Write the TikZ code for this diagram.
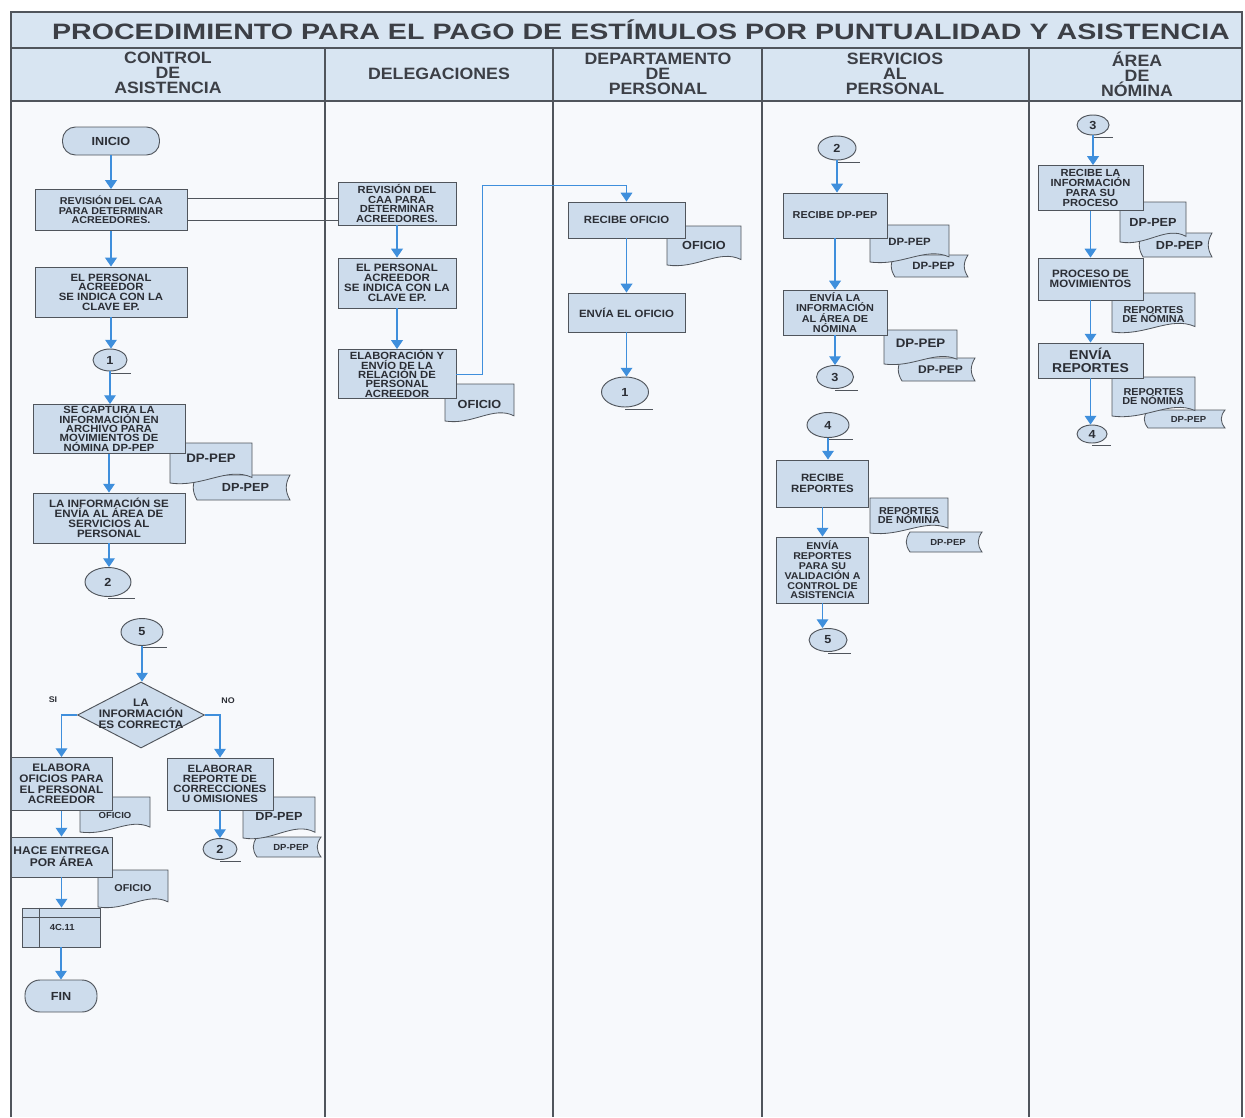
\documentclass[tikz,border=0pt]{standalone}
\usepackage{fontspec}
\setmainfont[FakeStretch=1.08]{Liberation Sans}
\usetikzlibrary{arrows.meta,shapes.geometric,calc}
\definecolor{boxfill}{HTML}{CDDCEC}
\definecolor{hdrfill}{HTML}{D8E5F2}
\definecolor{bodybg}{HTML}{F7F9FC}
\definecolor{flow}{HTML}{3F8FDC}
\definecolor{edge}{HTML}{50555C}
\definecolor{ink}{HTML}{2B2E35}
\definecolor{hdrink}{HTML}{3C3F46}
\newdimen\px \px=0.8536pt
\tikzset{
  lane/.style={draw=edge, line width=0.9pt},
  proc/.style={draw=edge, fill=boxfill, line width=0.8pt, align=center, inner sep=0.5pt, text=ink},
  term/.style={proc, rounded corners=13\px},
  conn/.style={ellipse, draw=edge, fill=boxfill, line width=0.8pt, inner sep=0pt, text=ink, font=\fontsize{10}{10}\selectfont\bfseries},
  docsty/.style={draw=edge, fill=boxfill, line width=0.7pt},
  doctxt/.style={align=center, inner sep=0pt, text=ink},
  flowarrow/.style={draw=flow, line width=1pt, -{Triangle[width=10pt,length=7.5pt]}},
  link/.style={draw=edge, line width=0.8pt},
  tail/.style={draw=edge, line width=0.6pt},
  hdr/.style={align=center, text=hdrink, font=\fontsize{14}{12.8}\selectfont\bfseries},
  lbl/.style={text=ink, font=\fontsize{7}{7}\selectfont\bfseries, inner sep=0pt},
}
% name, x0, y0, x1, y1, text-fraction, fontsize, text
\newcommand\docnode[8]{%
  \filldraw[docsty] (#2,#3) -- (#4,#3) -- (#4,{#5-0.14*(#5-#3)})
    .. controls ({#4-0.3*(#4-#2)},{#5-0.42*(#5-#3)}) and ({#2+0.4*(#4-#2)},{#5+0.12*(#5-#3)}) .. (#2,{#5}) -- cycle;
  \node[doctxt, font=\fontsize{#7}{#7}\selectfont\bfseries] (#1) at ({(#2+#4)/2},{#3+#6*(#5-#3)}) {#8};}
% name, x0, y0, x1, y1, fontsize, text
\newcommand\tapenode[7]{%
  \filldraw[docsty] (#2,#3) -- (#4,#3) .. controls ({#4-5},{#3+0.35*(#5-#3)}) and ({#4-5},{#5-0.35*(#5-#3)}) .. (#4,#5)
    -- (#2,#5) .. controls ({#2-5},{#5-0.35*(#5-#3)}) and ({#2-5},{#3+0.35*(#5-#3)}) .. (#2,#3) -- cycle;
  \node[doctxt, font=\fontsize{#6}{#6}\selectfont\bfseries] (#1) at ({(#2+#4)/2+2},{(#3+#5)/2}) {#7};}
\newcommand\flowto[2]{\draw[flowarrow] (#1.south) -- (#1.south |- #2.north);}
\newcommand\conntail[1]{\draw[tail] ($(#1.south)+(0,1.5)$) -- ($(#1.east |- #1.south)+(4,1.5)$);}

\begin{document}
\begin{tikzpicture}[x=0.03cm, y=-0.03cm]
\useasboundingbox (0,0) rectangle (1245,1117);
\fill[white] (0,0) rectangle (1245,1117);
\fill[bodybg] (11,101) rectangle (1242,1117);
\fill[hdrfill] (11,12) rectangle (1242,101);
\draw[lane] (11,1117) -- (11,12) -- (1242,12) -- (1242,1117);
\draw[lane] (11,48) -- (1242,48);
\draw[lane] (11,101) -- (1242,101);
\foreach \x in {325,553,762,1029} \draw[lane] (\x,48) -- (\x,1117);

% title and headers
\node[text=hdrink, font=\fontsize{19}{21}\selectfont\bfseries] (title) at (641,30)
  {\scalebox{1.19}[1]{PROCEDIMIENTO PARA EL PAGO DE ESTÍMULOS POR PUNTUALIDAD Y ASISTENCIA}};
\node[hdr] (h1) at (168,73) {CONTROL\\DE\\ASISTENCIA};
\node[hdr] (h2) at (439,74) {DELEGACIONES};
\node[hdr] (h3) at (658,74) {DEPARTAMENTO\\DE\\PERSONAL};
\node[hdr] (h4) at (895,74) {SERVICIOS\\AL\\PERSONAL};
\node[hdr] (h5) at (1137,74) {ÁREA\\DE\\NÓMINA};

% stacked second documents (behind)
\tapenode{t1}{197}{475}{290}{500}{10}{DP-PEP}
\tapenode{t2}{257}{837}{321}{857}{7.5}{DP-PEP}
\tapenode{t3}{895}{255}{968}{277}{9}{DP-PEP}
\tapenode{t4}{902}{358}{975}{381}{9.5}{DP-PEP}
\tapenode{t5}{910}{532}{982}{552}{7.5}{DP-PEP}
\tapenode{t6}{1143}{233}{1212}{257}{10}{DP-PEP}
\tapenode{t7}{1148}{410}{1225}{428}{7.5}{DP-PEP}

% documents
\docnode{d1}{170}{443}{252}{483}{0.38}{10.5}{DP-PEP}
\docnode{d2}{80}{797}{150}{832}{0.52}{7.5}{OFICIO}
\docnode{d3}{243}{797}{315}{838}{0.48}{10}{DP-PEP}
\docnode{d4}{98}{870}{168}{907}{0.5}{8.5}{OFICIO}
\docnode{d5}{445}{384}{514}{421}{0.55}{10}{OFICIO}
\docnode{d6}{667}{226}{741}{265}{0.5}{10}{OFICIO}
\docnode{d7}{870}{225}{949}{262}{0.45}{9}{DP-PEP}
\docnode{d8}{884}{330}{957}{364}{0.38}{10.5}{DP-PEP}
\docnode{d9}{870}{498}{948}{533}{0.5}{8.6}{REPORTES\\[-1.5pt]DE NÓMINA}
\docnode{d10}{1120}{202}{1186}{242}{0.5}{10}{DP-PEP}
\docnode{d11}{1112}{293}{1195}{332}{0.55}{8.6}{REPORTES\\[-1.5pt]DE NÓMINA}
\docnode{d12}{1112}{377}{1195}{416}{0.5}{8.6}{REPORTES\\[-1.5pt]DE NÓMINA}

% CONTROL DE ASISTENCIA
\node[term, minimum width=97\px, minimum height=28\px, font=\fontsize{10}{10}\selectfont\bfseries] (inicio) at (111,141) {INICIO};
\node[proc, minimum width=152\px, minimum height=41\px, font=\fontsize{8.5}{8.2}\selectfont\bfseries] (rev1) at (111,210) {REVISIÓN DEL CAA\\PARA DETERMINAR\\ACREEDORES.};
\node[proc, minimum width=152\px, minimum height=50\px, font=\fontsize{9}{8.3}\selectfont\bfseries] (per1) at (111,292) {EL PERSONAL\\ACREEDOR\\SE INDICA CON LA\\CLAVE EP.};
\node[conn, minimum width=34\px, minimum height=22\px] (c1a) at (110,360) {1};
\node[proc, minimum width=152\px, minimum height=49\px, font=\fontsize{8.9}{8}\selectfont\bfseries] (cap1) at (109,429) {SE CAPTURA LA\\INFORMACIÓN EN\\ARCHIVO PARA\\MOVIMIENTOS DE\\NÓMINA DP-PEP};
\node[proc, minimum width=152\px, minimum height=50\px, font=\fontsize{9.1}{8.4}\selectfont\bfseries] (inf1) at (109,518) {LA INFORMACIÓN SE\\ENVÍA AL ÁREA DE\\SERVICIOS AL\\PERSONAL};
\node[conn, minimum width=46\px, minimum height=29\px] (c2a) at (108,582) {2};
\node[conn, minimum width=42\px, minimum height=27\px] (c5a) at (142,632) {5};
\node[diamond, draw=edge, fill=boxfill, line width=0.8pt, minimum width=127\px, minimum height=66\px, inner sep=0pt] (dec) at (141,715) {};
\node[align=center, text=ink, inner sep=0pt, font=\fontsize{9.3}{9.2}\selectfont\bfseries] (dect) at (141,714) {LA\\INFORMACIÓN\\ES CORRECTA};
\node[lbl] (si) at (53,700) {SI};
\node[lbl] (no) at (228,701) {NO};
\node[proc, minimum width=101\px, minimum height=53\px, font=\fontsize{9.3}{9}\selectfont\bfseries] (ela) at (61.5,784) {ELABORA\\OFICIOS PARA\\EL PERSONAL\\ACREEDOR};
\node[proc, minimum width=106\px, minimum height=52\px, font=\fontsize{9}{8.6}\selectfont\bfseries] (elr) at (220,784) {ELABORAR\\REPORTE DE\\CORRECCIONES\\U OMISIONES};
\node[conn, minimum width=34\px, minimum height=21\px] (c2b) at (220,849) {2};
\node[proc, minimum width=101\px, minimum height=40\px, inner sep=0pt, font=\fontsize{9.5}{10.5}\selectfont\bfseries] (hac) at (61.5,857) {HACE ENTREGA\\POR ÁREA};
\node[proc, minimum width=78\px, minimum height=39\px, font=\fontsize{7.5}{7.5}\selectfont\bfseries] (c411) at (61,927.5) {\hspace*{2pt}4C.11};
\draw[link] ($(c411.north west)+(18,0)$) -- ($(c411.south west)+(18,0)$);
\draw[link] ($(c411.north west)+(0,10)$) -- ($(c411.north east)+(0,10)$);
\node[term, rounded corners=15\px, minimum width=72\px, minimum height=32\px, font=\fontsize{10}{10}\selectfont\bfseries] (fin) at (61,996) {FIN};

% DELEGACIONES
\node[proc, minimum width=118\px, minimum height=43\px, font=\fontsize{8.8}{8.2}\selectfont\bfseries] (rev2) at (397,203.5) {REVISIÓN DEL\\CAA PARA\\DETERMINAR\\ACREEDORES.};
\node[proc, minimum width=118\px, minimum height=50\px, font=\fontsize{9.1}{8.4}\selectfont\bfseries] (per2) at (397,283) {EL PERSONAL\\ACREEDOR\\SE INDICA CON LA\\CLAVE EP.};
\node[proc, minimum width=118\px, minimum height=49\px, font=\fontsize{8.9}{8}\selectfont\bfseries] (elab) at (397,374) {ELABORACIÓN Y\\ENVÍO DE LA\\RELACIÓN DE\\PERSONAL\\ACREEDOR};

% DEPARTAMENTO DE PERSONAL
\node[proc, minimum width=117\px, minimum height=36\px, font=\fontsize{9}{9}\selectfont\bfseries] (recof) at (626.5,220) {RECIBE OFICIO};
\node[proc, minimum width=117\px, minimum height=39\px, font=\fontsize{9}{9}\selectfont\bfseries] (envof) at (626.5,312.5) {ENVÍA EL OFICIO};
\node[conn, minimum width=47\px, minimum height=30\px] (c1b) at (625,392) {1};

% SERVICIOS AL PERSONAL
\node[conn, minimum width=38\px, minimum height=24\px] (c2c) at (837,148) {2};
\node[proc, minimum width=104\px, minimum height=45\px, font=\fontsize{8.6}{8.6}\selectfont\bfseries] (recdp) at (835,215.5) {RECIBE DP-PEP};
\node[proc, minimum width=104\px, minimum height=45\px, font=\fontsize{8.6}{8.8}\selectfont\bfseries] (envinf) at (835,312.5) {ENVÍA LA\\INFORMACIÓN\\AL ÁREA DE\\NÓMINA};
\node[conn, minimum width=37\px, minimum height=23\px] (c3a) at (835,377) {3};
\node[conn, minimum width=42\px, minimum height=25\px] (c4a) at (828,425) {4};
\node[proc, minimum width=92\px, minimum height=47\px, font=\fontsize{9}{9.5}\selectfont\bfseries] (recrep) at (822.5,483.5) {RECIBE\\REPORTES};
\node[proc, minimum width=92\px, minimum height=66\px, font=\fontsize{8.4}{8.4}\selectfont\bfseries] (envrep) at (822.5,570) {ENVÍA\\REPORTES\\PARA SU\\VALIDACIÓN A\\CONTROL DE\\ASISTENCIA};
\node[conn, minimum width=38\px, minimum height=23\px] (c5b) at (828,640) {5};

% AREA DE NOMINA
\node[conn, minimum width=32\px, minimum height=20\px] (c3b) at (1093,125) {3};
\node[proc, minimum width=105\px, minimum height=45\px, font=\fontsize{8.8}{8.3}\selectfont\bfseries] (recinf) at (1090.5,188) {RECIBE LA\\INFORMACIÓN\\PARA SU\\PROCESO};
\node[proc, minimum width=105\px, minimum height=42\px, font=\fontsize{9.1}{9}\selectfont\bfseries] (proc) at (1090.5,279) {PROCESO DE\\MOVIMIENTOS};
\node[proc, minimum width=105\px, minimum height=35\px, font=\fontsize{11}{11}\selectfont\bfseries] (envrep2) at (1090.5,360.5) {ENVÍA\\REPORTES};
\node[conn, minimum width=30\px, minimum height=18\px] (c4b) at (1092,434) {4};

% connector tails
\conntail{c1a}\conntail{c2a}\conntail{c5a}\conntail{c2b}\conntail{c1b}
\conntail{c2c}\conntail{c3a}\conntail{c4a}\conntail{c5b}\conntail{c3b}\conntail{c4b}

% flows
\flowto{inicio}{rev1}
\flowto{rev1}{per1}
\flowto{per1}{c1a}
\flowto{c1a}{cap1}
\flowto{cap1}{inf1}
\flowto{inf1}{c2a}
\flowto{c5a}{dec}
\draw[flowarrow] (dec.west) -| (ela.north);
\draw[flowarrow] (dec.east) -| (elr.north);
\flowto{elr}{c2b}
\flowto{ela}{hac}
\flowto{hac}{c411}
\flowto{c411}{fin}
\flowto{rev2}{per2}
\flowto{per2}{elab}
\coordinate (j1) at (482,185);
\draw[flowarrow, line width=0.8pt] (elab.east) -| (j1) -| (recof.north);
\flowto{recof}{envof}
\flowto{envof}{c1b}
\flowto{c2c}{recdp}
\flowto{recdp}{envinf}
\flowto{envinf}{c3a}
\flowto{c4a}{recrep}
\flowto{recrep}{envrep}
\flowto{envrep}{c5b}
\flowto{c3b}{recinf}
\flowto{recinf}{proc}
\flowto{proc}{envrep2}
\flowto{envrep2}{c4b}

% links between the two revision boxes
\coordinate (l1) at ($(rev1.east)+(0,-12)$);
\coordinate (l2) at ($(rev1.east)+(0,10)$);
\draw[link] (l1) -- (l1 -| rev2.west);
\draw[link] (l2) -- (l2 -| rev2.west);
\end{tikzpicture}
\end{document}
